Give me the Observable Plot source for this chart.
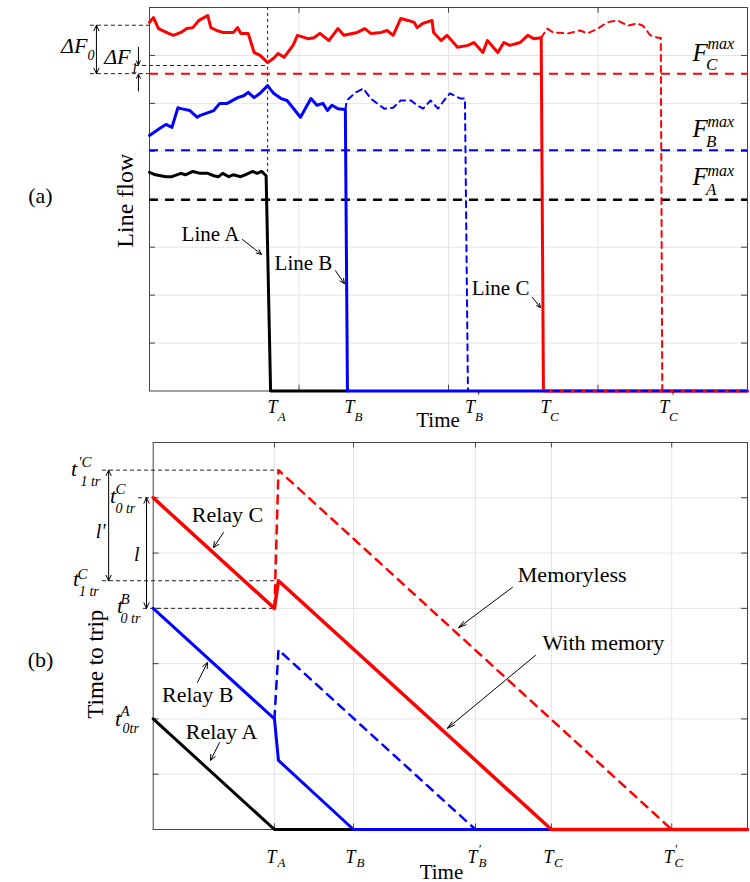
<!DOCTYPE html>
<html><head><meta charset="utf-8">
<script src="https://cdn.jsdelivr.net/npm/d3@7"></script>
<script src="https://cdn.jsdelivr.net/npm/@observablehq/plot@0.6"></script>
<style>body{margin:0;background:#fff} #chart{width:750px;height:882px} #chart svg{display:block}</style>
</head><body><div id="chart"></div>
<script>
// ---------- Panel (a): line flows ----------
const lineA = [[0,4.56],[0.04,4.51],[0.11,4.47],[0.15,4.47],[0.21,4.54],[0.24,4.51],[0.29,4.58],[0.34,4.54],[0.39,4.54],[0.43,4.49],[0.46,4.47],[0.49,4.54],[0.53,4.47],[0.56,4.51],[0.61,4.47],[0.64,4.51],[0.69,4.58],[0.72,4.54],[0.75,4.58],[0.78,4.49],[0.81,0],[1.324,0]];
const lineB = [[0,5.33],[0.07,5.48],[0.11,5.56],[0.15,5.50],[0.19,5.91],[0.21,5.89],[0.27,5.85],[0.32,5.71],[0.34,5.75],[0.43,5.85],[0.47,6.0],[0.52,6.0],[0.59,6.12],[0.63,6.16],[0.66,6.23],[0.70,6.12],[0.74,6.21],[0.79,6.37],[0.83,6.21],[0.88,6.10],[0.92,6.06],[1.01,5.71],[1.08,6.10],[1.12,5.96],[1.16,6.0],[1.19,5.85],[1.22,5.96],[1.26,5.89],[1.31,5.87],[1.324,0],[4,0]];
const lineBNoTrip = [[1.31,5.87],[1.32,6.06],[1.38,6.23],[1.43,6.31],[1.48,6.10],[1.57,5.89],[1.63,5.91],[1.68,6.06],[1.75,6.06],[1.79,5.96],[1.83,5.89],[1.88,6.06],[1.93,5.89],[1.97,6.06],[2.01,6.21],[2.08,6.10],[2.11,6.10],[2.13,0],[4,0]];
const lineC = [[0,7.69],[0.027,7.79],[0.06,7.56],[0.12,7.47],[0.16,7.42],[0.21,7.48],[0.25,7.56],[0.29,7.58],[0.33,7.73],[0.39,7.83],[0.41,7.58],[0.45,7.52],[0.49,7.48],[0.56,7.48],[0.59,7.58],[0.61,7.46],[0.66,7.46],[0.70,7.06],[0.74,7.0],[0.79,6.85],[0.83,6.94],[0.86,7.04],[0.90,6.96],[0.96,7.21],[0.99,7.42],[1.06,7.35],[1.10,7.37],[1.14,7.46],[1.20,7.31],[1.26,7.56],[1.30,7.42],[1.39,7.48],[1.44,7.56],[1.48,7.46],[1.55,7.48],[1.59,7.52],[1.63,7.42],[1.68,7.77],[1.73,7.73],[1.77,7.69],[1.79,7.58],[1.83,7.67],[1.89,7.73],[1.90,7.48],[1.95,7.31],[1.99,7.42],[2.06,7.17],[2.13,7.21],[2.17,7.27],[2.23,7.06],[2.26,7.31],[2.33,7.06],[2.37,7.27],[2.41,7.21],[2.48,7.27],[2.53,7.42],[2.57,7.35],[2.62,7.37],[2.635,0],[4,0]];
const lineCNoTrip = [[2.62,7.37],[2.66,7.56],[2.70,7.48],[2.80,7.46],[2.88,7.52],[2.93,7.46],[3.0,7.56],[3.06,7.69],[3.13,7.73],[3.20,7.62],[3.26,7.67],[3.30,7.62],[3.35,7.42],[3.40,7.37],[3.42,7.37],[3.43,0],[4,0]];
const limitNames = ["A","B","C"];
const limitValues = [3.99, 5.02, 6.62];
const tickLetters = ["A","B","B","C","C"];
const tickPrimes = [false,false,true,false,true];
const tickTimesA = [0.81, 1.324, 2.13, 2.635, 3.43];
const gridXA = [1,2,3];
const gridYA = [1,2,3,4,5,6,7];

// ---------- Panel (b): time to trip ----------
const relayA = [[0,2],[0.816,0],[1.348,0]];
const relayB = [[0,4],[0.816,2],[0.843,1.25],[1.348,0],[4,0]];
const relayBMemoryless = [[0.816,2],[0.843,3.25],[2.169,0]];
const relayC = [[0,6],[0.816,4],[0.843,4.5],[2.68,0],[4,0]];
const relayCMemoryless = [[0.816,4],[0.843,6.5],[3.49,0]];
const tickTimesB = [0.816, 1.348, 2.169, 2.68, 3.49];
const gridYB = [1,2,3,4,5,6];

const serif = "Liberation Serif";
const pts = a => a.map(([t, v]) => ({t, v}));
const txt = (s, x, y, o = {}) => Plot.text([s], {x: [x], y: [y], text: [s], fontFamily: serif, fontSize: 22, fill: "black", lineAnchor: "bottom", ...o});
const it = (s, x, y, o = {}) => txt(s, x, y, {fontStyle: "italic", ...o});
const arr = (x1, y1, x2, y2, o = {}) => Plot.arrow([0], {x1: [x1], y1: [y1], x2: [x2], y2: [y2], stroke: "black", strokeWidth: 1, headLength: 9, headAngle: 50, ...o});
const hd = (y, x1, x2, o = {}) => Plot.ruleY([y], {x1: [x1], x2: [x2], stroke: "#222", strokeWidth: 1, strokeDasharray: "4,3", ...o});
const ln = (data, stroke, w, o = {}) => Plot.line(pts(data), {x: "t", y: "v", stroke, strokeWidth: w, ...o});

const ticksA = tickTimesA.map((t, i) => ({t, l: tickLetters[i], p: tickPrimes[i]}));
const ticksB = tickTimesB.map((t, i) => ({t, l: tickLetters[i], p: tickPrimes[i]}));
const limits = limitValues.map((v, i) => ({v, n: limitNames[i]}));
const fLabelY = {A: [4.29, 4.49, 4.08], B: [5.29, 5.50, 5.08], C: [6.89, 7.14, 6.69]};

const boxTicks = (gx, gy, xmax, ymax, dx, dy) => [
  Plot.ruleX(gx, {y1: () => 0, y2: () => dy, stroke: "#444"}),
  Plot.ruleX(gx, {y1: () => ymax - dy, y2: () => ymax, stroke: "#444"}),
  Plot.ruleY(gy, {x1: () => 0, x2: () => dx, stroke: "#444"}),
  Plot.ruleY(gy, {x1: () => xmax - dx, x2: () => xmax, stroke: "#444"})
];

const tickLabels = (ticks, o) => [
  Plot.text(ticks, {x: "t", text: () => "T", frameAnchor: "bottom", dx: o.tdx, dy: o.tdy, lineAnchor: "bottom", fontFamily: serif, fontStyle: "italic", fontSize: 18, fill: "black"}),
  Plot.text(ticks, {x: "t", text: "l", frameAnchor: "bottom", dx: o.sdx, dy: o.sdy, lineAnchor: "bottom", fontFamily: serif, fontStyle: "italic", fontSize: 13, fill: "black"}),
  Plot.text(ticks.filter(d => d.p), {x: "t", text: () => "'", frameAnchor: "bottom", dx: o.pdx, dy: o.pdy, lineAnchor: "bottom", fontFamily: serif, fontStyle: "italic", fontSize: 13, fill: "black"})
];

const plotA = Plot.plot({
  width: 750, height: 432,
  marginTop: 7, marginLeft: 149, marginRight: 3, marginBottom: 41.5,
  x: {domain: [0, 4], axis: null},
  y: {domain: [0, 8], axis: null},
  style: {background: "white", fontFamily: serif},
  marks: [
    Plot.ruleX(gridXA, {stroke: "#e4e4e4"}),
    Plot.ruleY(gridYA, {stroke: "#e4e4e4"}),
    ...boxTicks(gridXA, gridYA, 4, 8, 0.04, 0.12),
    Plot.frame({stroke: "#444"}),
    Plot.ruleY(limits.filter(d => d.n === "A"), {y: "v", stroke: "black", strokeWidth: 2.5, strokeDasharray: "9,7"}),
    Plot.ruleY(limits.filter(d => d.n === "B"), {y: "v", stroke: "#0000ff", strokeWidth: 2, strokeDasharray: "9,7"}),
    Plot.ruleY(limits.filter(d => d.n === "C"), {y: "v", stroke: "#ff0000", strokeWidth: 2, strokeDasharray: "9,7"}),
    Plot.ruleX([0.79], {y1: [4.56], y2: [8], stroke: "#222", strokeWidth: 1, strokeDasharray: "3,3"}),
    hd(7.63, -0.395, 0),
    hd(6.62, -0.395, 0),
    hd(6.79, -0.094, 0.79),
    ln(lineA, "black", 3),
    ln(lineB, "#0000ff", 3),
    ln(lineC, "#ff0000", 3),
    ln(lineCNoTrip, "#ff0000", 2, {strokeDasharray: "6,5"}),
    ln(lineBNoTrip, "#0000ff", 2, {strokeDasharray: "6,5"}),
    ...limitNames.flatMap(n => [
      it("F", 3.632, fLabelY[n][0], {fontSize: 25, textAnchor: "start"}),
      it("max", 3.732, fLabelY[n][1], {fontSize: 16, textAnchor: "start"}),
      it(n, 3.722, fLabelY[n][2], {fontSize: 17, textAnchor: "start"})
    ]),
    arr(-0.355, 7.125, -0.355, 7.63), arr(-0.355, 7.125, -0.355, 6.62),
    arr(-0.074, 7.17, -0.074, 6.80, {headLength: 7}), arr(-0.074, 6.26, -0.074, 6.61, {headLength: 7}),
    it("\u0394F", -0.415, 7.06, {textAnchor: "end", fontSize: 22}),
    it("0", -0.415, 6.91, {textAnchor: "start", fontSize: 14}),
    it("\u0394F", -0.127, 6.83, {textAnchor: "end", fontSize: 22}),
    it("1", -0.124, 6.64, {textAnchor: "start", fontSize: 14}),
    txt("Line A", 0.408, 3.13, {fontSize: 21}),
    arr(0.622, 3.16, 0.749, 2.85, {headLength: 8}),
    txt("Line B", 1.03, 2.52, {fontSize: 21}),
    arr(1.244, 2.51, 1.304, 2.24, {headLength: 8}),
    txt("Line C", 2.348, 2.0, {fontSize: 21}),
    arr(2.562, 1.95, 2.615, 1.74, {headLength: 8}),
    ...tickLabels(ticksA, {tdx: 2, tdy: 21.5, sdx: 11, sdy: 29.5, pdx: 10, pdy: 9}),
    Plot.text(["Time"], {x: [1.93], text: ["Time"], frameAnchor: "bottom", dy: 35.5, lineAnchor: "bottom", fontFamily: serif, fontSize: 21, fill: "black"}),
    txt("Line flow", -0.16, 3.97, {rotate: -90, fontSize: 24, lineAnchor: "middle"}),
    txt("(a)", -0.73, 4.07, {fontSize: 22, lineAnchor: "middle"})
  ]
});

const plotB = Plot.plot({
  width: 750, height: 450,
  marginTop: 10, marginLeft: 152.7, marginRight: 3, marginBottom: 53,
  x: {domain: [0, 4], axis: null},
  y: {domain: [0, 7], axis: null},
  style: {background: "white", fontFamily: serif},
  marks: [
    Plot.ruleX(tickTimesB, {stroke: "#e4e4e4"}),
    Plot.ruleY(gridYB, {stroke: "#e4e4e4"}),
    ...boxTicks(tickTimesB, gridYB, 4, 7, 0.04, 0.1),
    Plot.frame({stroke: "#444"}),
    hd(6.5, -0.341, 0.843),
    hd(6.0, -0.099, 0),
    hd(4.5, -0.341, 0.843),
    hd(4.0, -0.065, 0.816),
    ln(relayA, "black", 3),
    ln(relayB, "#0000ff", 3),
    ln(relayBMemoryless, "#0000ff", 2.5, {strokeDasharray: "8,7"}),
    ln(relayC, "#ff0000", 3.5),
    ln(relayCMemoryless, "#ff0000", 2.5, {strokeDasharray: "8,7"}),
    arr(-0.30, 5.5, -0.30, 6.5), arr(-0.30, 5.5, -0.30, 4.5),
    arr(-0.045, 5.0, -0.045, 6.0), arr(-0.045, 5.0, -0.045, 4.0),
    it("l'", -0.354, 5.38, {fontSize: 20, lineAnchor: "middle"}),
    it("l", -0.11, 4.97, {fontSize: 20, lineAnchor: "middle"}),
    it("t", -0.533, 6.40, {fontSize: 22}),
    it("'C", -0.505, 6.55, {fontSize: 15, textAnchor: "start"}),
    it("1 tr", -0.49, 6.22, {fontSize: 14, textAnchor: "start"}),
    it("t", -0.27, 5.91, {fontSize: 22}),
    it("C", -0.254, 6.06, {fontSize: 15, textAnchor: "start"}),
    it("0 tr", -0.254, 5.73, {fontSize: 14, textAnchor: "start"}),
    it("t", -0.52, 4.41, {fontSize: 22}),
    it("C", -0.509, 4.54, {fontSize: 15, textAnchor: "start"}),
    it("1 tr", -0.50, 4.23, {fontSize: 14, textAnchor: "start"}),
    it("t", -0.223, 3.92, {fontSize: 22}),
    it("B", -0.22, 4.07, {fontSize: 15, textAnchor: "start"}),
    it("0 tr", -0.22, 3.73, {fontSize: 14, textAnchor: "start"}),
    it("t", -0.237, 1.88, {fontSize: 22}),
    it("A", -0.22, 2.06, {fontSize: 15, textAnchor: "start"}),
    it("0tr", -0.206, 1.74, {fontSize: 14, textAnchor: "start"}),
    txt("Relay C", 0.50, 5.56),
    arr(0.473, 5.37, 0.406, 5.10),
    txt("Relay B", 0.30, 2.30),
    arr(0.298, 2.66, 0.365, 3.02),
    txt("Relay A", 0.46, 1.64),
    arr(0.446, 1.57, 0.386, 1.25),
    txt("Memoryless", 2.82, 4.47),
    arr(2.418, 4.38, 2.055, 3.65, {headLength: 12, headAngle: 30}),
    txt("With memory", 3.03, 3.24),
    arr(2.573, 3.15, 1.98, 1.83, {headLength: 12, headAngle: 30}),
    ...tickLabels(ticksB, {tdx: -3, tdy: 33, sdx: 7, sdy: 37, pdx: 4, pdy: 23}),
    Plot.text(["Time"], {x: [1.94], text: ["Time"], frameAnchor: "bottom", dy: 49.5, lineAnchor: "bottom", fontFamily: serif, fontSize: 21, fill: "black"}),
    txt("Time to trip", -0.39, 2.99, {rotate: -90, fontSize: 23, lineAnchor: "middle"}),
    txt("(b)", -0.758, 3.06, {fontSize: 22, lineAnchor: "middle"})
  ]
});

document.getElementById("chart").append(plotA, plotB);
</script></body></html>
